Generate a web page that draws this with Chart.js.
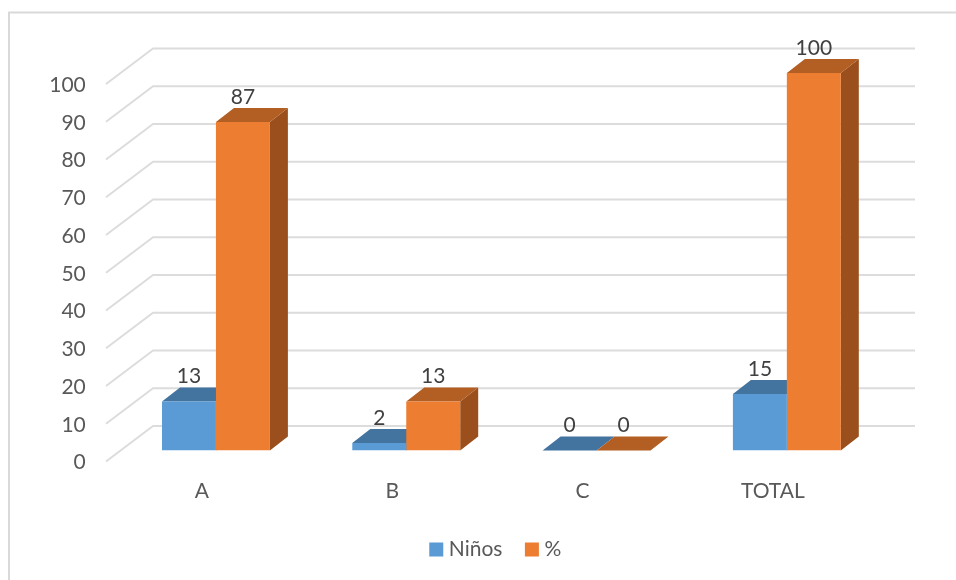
<!DOCTYPE html>
<html>
<head>
<meta charset="utf-8">
<style>html,body{margin:0;padding:0;background:#fff}canvas{display:block}</style>
<script src="https://cdn.jsdelivr.net/npm/chart.js@4/dist/chart.umd.min.js"></script>
</head>
<body>
<canvas id="c" width="956" height="580"></canvas>
<script>
const categories = ["A", "B", "C", "TOTAL"];
const ninos = [13, 2, 0, 15];
const porcentaje = [87, 13, 0, 100];
const seriesNames = ["Niños", "%"];
const yTicks = [0,10,20,30,40,50,60,70,80,90,100];

const FONT = "Lato, Carlito, sans-serif";
const DX = 18, DY = 14;
const shades = [
  {front:"#5B9BD5", top:"#43739F", side:"#375F84"},
  {front:"#ED7D31", top:"#B35E22", side:"#9A4F1C"}
];

const threeD = {
  id: "threeD",
  beforeDraw(chart){
    const c = chart.ctx;
    c.save();
    c.strokeStyle = "#d9d9d9"; c.lineWidth = 2;
    c.beginPath(); c.moveTo(956,12.5); c.lineTo(9,12.5); c.lineTo(9,580); c.stroke();
    c.restore();
  },
  beforeDatasetsDraw(chart){
    const c = chart.ctx, y = chart.scales.y;
    c.save();
    c.strokeStyle = "#dcdcdc"; c.lineWidth = 2; c.lineJoin = "round";
    yTicks.forEach(v => {
      const p = y.getPixelForValue(v);
      c.beginPath();
      c.moveTo(106, p + 11);
      c.lineTo(153, p - 24.5);
      c.lineTo(915, p - 24.5);
      c.stroke();
    });
    chart.data.datasets.forEach((ds, di) => {
      const s = shades[di];
      chart.getDatasetMeta(di).data.forEach(b => {
        const l = b.x - b.width/2, r = b.x + b.width/2, t = b.y, bt = b.base;
        if (bt - t > 0) {
          c.fillStyle = s.side;
          c.beginPath();
          c.moveTo(r,t); c.lineTo(r+DX,t-DY); c.lineTo(r+DX,bt-DY); c.lineTo(r,bt);
          c.closePath(); c.fill();
        }
        c.fillStyle = s.top;
        c.beginPath();
        c.moveTo(l,t); c.lineTo(l+DX,t-DY); c.lineTo(r+DX,t-DY); c.lineTo(r,t);
        c.closePath(); c.fill();
      });
    });
    c.restore();
  },
  afterDatasetsDraw(chart){
    const c = chart.ctx;
    c.save();
    c.font = "21px " + FONT;
    c.fillStyle = "#404040";
    c.textAlign = "center"; c.textBaseline = "middle";
    chart.data.datasets.forEach((ds, di) => {
      chart.getDatasetMeta(di).data.forEach((b, i) => {
        c.fillText(String(ds.data[i]), b.x, b.y - 25);
      });
    });
    c.restore();
  },
  afterLayout(chart){
    const l = chart.legend;
    const h = l.height;
    l.left = 9; l.right = 986.5;
    l.top = 511.5; l.bottom = 511.5 + h;
  }
};

const baseLabels = Chart.defaults.plugins.legend.labels.generateLabels;

new Chart(document.getElementById("c"), {
  type: "bar",
  data: {
    labels: categories,
    datasets: [
      {label: seriesNames[0], data: ninos, backgroundColor: shades[0].front, borderWidth: 0, categoryPercentage: 0.567, barPercentage: 1},
      {label: seriesNames[1], data: porcentaje, backgroundColor: shades[1].front, borderWidth: 0, categoryPercentage: 0.567, barPercentage: 1}
    ]
  },
  options: {
    responsive: false,
    animation: false,
    devicePixelRatio: 1,
    layout: {padding: {top: 73, right: 74, bottom: 0, left: 0}},
    plugins: {
      legend: {
        position: "bottom",
        labels: {
          boxWidth: 4, boxHeight: 4, padding: 27.5, color: "#595959",
          font: {family: FONT, size: 21},
          generateLabels(chart){
            return baseLabels(chart).map(it => Object.assign(it, {strokeStyle: it.fillStyle, lineWidth: 10}));
          }
        }
      },
      tooltip: {enabled: false}
    },
    scales: {
      x: {
        grid: {display: false, drawTicks: false},
        border: {display: false},
        ticks: {color: "#595959", font: {family: FONT, size: 21}, labelOffset: -14, padding: 28, maxRotation: 0},
        afterFit(s){ s.height = 71; }
      },
      y: {
        min: 0, max: 100,
        grid: {display: false, drawTicks: false},
        border: {display: false},
        ticks: {stepSize: 10, color: "#595959", font: {family: FONT, size: 21}, labelOffset: 12, padding: 35},
        afterFit(s){ s.width = 120.8; }
      }
    }
  },
  plugins: [threeD]
});
</script>
</body>
</html>
